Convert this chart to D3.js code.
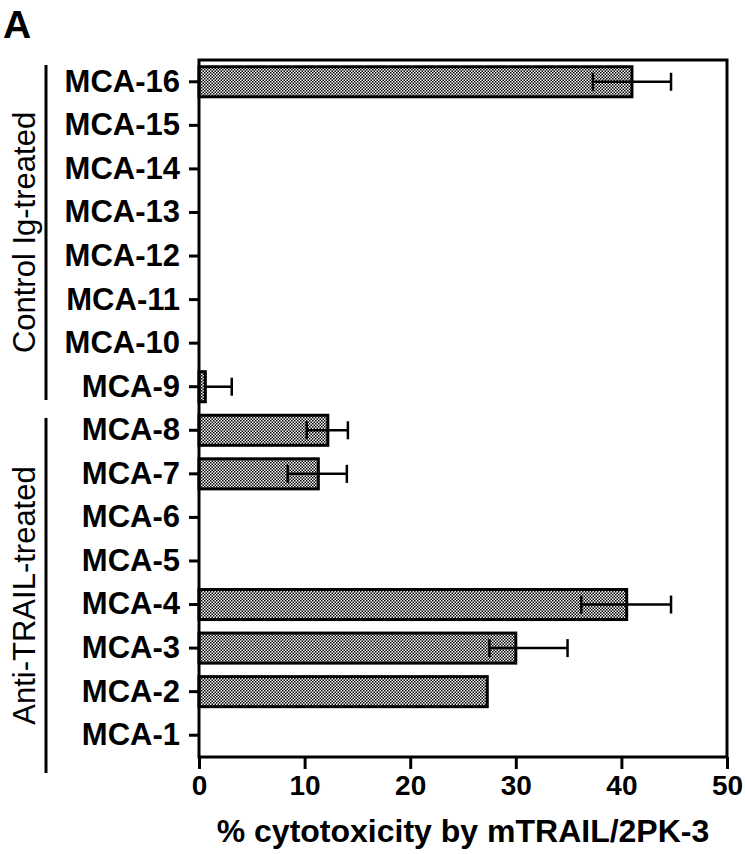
<!DOCTYPE html>
<html>
<head>
<meta charset="utf-8">
<script src="https://cdn.jsdelivr.net/npm/d3@7"></script>
<style>
  body { margin: 0; background: #fff; }
  text { font-family: "Liberation Sans", Arial, Helvetica, sans-serif; }
</style>
</head>
<body>
<svg id="chart" width="745" height="854"></svg>
<script>
// cell lines, top to bottom
const categories = ["MCA-16", "MCA-15", "MCA-14", "MCA-13", "MCA-12", "MCA-11", "MCA-10", "MCA-9",
                    "MCA-8", "MCA-7", "MCA-6", "MCA-5", "MCA-4", "MCA-3", "MCA-2", "MCA-1"];
// % cytotoxicity (null = no bar)
const values  = [41.0, null, null, null, null, null, null, 0.6, 12.2, 11.3, null, null, 40.5, 30.0, 27.3, null];
const errLow  = [3.7, 0, 0, 0, 0, 0, 0, 0, 2.0, 2.9, 0, 0, 4.3, 2.5, 0, 0];
const errHigh = [3.7, 0, 0, 0, 0, 0, 0, 2.5, 1.9, 2.7, 0, 0, 4.2, 4.9, 0, 0];
const xTicks = [0, 10, 20, 30, 40, 50];
const groups = [
    {label: "Control Ig-treated", top: 65, bottom: 400},
    {label: "Anti-TRAIL-treated", top: 418, bottom: 773}
];

const data = categories.map(function(c, i) {
    return {name: c, value: values[i], lo: errLow[i], hi: errHigh[i]};
});

const svg = d3.select("#chart");
const margin = {top: 60, right: 18, bottom: 97, left: 199};
const width = 745, height = 854;

var x = d3.scaleLinear()
    .domain([0, 50])
    .range([margin.left, width - margin.right]);

var y = d3.scaleBand()
    .domain(categories)
    .range([margin.top, height - margin.bottom])
    .paddingInner(0.31)
    .paddingOuter(0.155);

// stipple fill
var pat = svg.append("defs").append("pattern")
    .attr("id", "dots")
    .attr("patternUnits", "userSpaceOnUse")
    .attr("width", 3).attr("height", 3);
pat.append("rect").attr("width", 3).attr("height", 3).attr("fill", "#fff");
pat.append("rect").attr("x", 0).attr("y", 0).attr("width", 1.5).attr("height", 1.5).attr("fill", "#000");
pat.append("rect").attr("x", 1.5).attr("y", 1.5).attr("width", 1.5).attr("height", 1.5).attr("fill", "#000");

// panel letter
svg.append("text")
    .attr("x", 3).attr("y", 38)
    .attr("font-size", 39).attr("font-weight", "bold")
    .text("A");

// bars
var bars = data.filter(function(d) { return d.value != null; });
svg.selectAll(".bar")
    .data(bars)
    .enter().append("rect")
    .attr("class", "bar")
    .attr("x", x(0))
    .attr("y", function(d) { return y(d.name); })
    .attr("width", function(d) { return x(d.value) - x(0); })
    .attr("height", y.bandwidth())
    .attr("fill", "url(#dots)")
    .attr("stroke", "#000")
    .attr("stroke-width", 3);

// error bars (whisker to each side, capped)
var errs = bars.filter(function(d) { return d.hi > 0; });
var eg = svg.selectAll(".err")
    .data(errs)
    .enter().append("g")
    .attr("class", "err")
    .attr("stroke", "#000")
    .attr("stroke-width", 2.5);
eg.append("line")
    .attr("x1", function(d) { return x(Math.max(0, d.value - d.lo)); })
    .attr("x2", function(d) { return x(d.value + d.hi); })
    .attr("y1", function(d) { return y(d.name) + y.bandwidth() / 2; })
    .attr("y2", function(d) { return y(d.name) + y.bandwidth() / 2; });
eg.append("line")
    .attr("x1", function(d) { return x(d.value + d.hi); })
    .attr("x2", function(d) { return x(d.value + d.hi); })
    .attr("y1", function(d) { return y(d.name) + y.bandwidth() / 2 - 9; })
    .attr("y2", function(d) { return y(d.name) + y.bandwidth() / 2 + 9; });
eg.filter(function(d) { return d.lo > 0; }).append("line")
    .attr("x1", function(d) { return x(d.value - d.lo); })
    .attr("x2", function(d) { return x(d.value - d.lo); })
    .attr("y1", function(d) { return y(d.name) + y.bandwidth() / 2 - 9; })
    .attr("y2", function(d) { return y(d.name) + y.bandwidth() / 2 + 9; });

// frame
svg.append("rect")
    .attr("x", margin.left).attr("y", margin.top)
    .attr("width", width - margin.right - margin.left)
    .attr("height", height - margin.bottom - margin.top)
    .attr("fill", "none")
    .attr("stroke", "#000")
    .attr("stroke-width", 3);

// axes
var xAxis = svg.append("g")
    .attr("transform", `translate(0, ${height - margin.bottom})`)
    .call(d3.axisBottom(x).tickValues(xTicks).tickSize(12).tickPadding(6));
var yAxis = svg.append("g")
    .attr("transform", `translate(${margin.left}, 0)`)
    .call(d3.axisLeft(y).tickSize(10).tickPadding(9));

[xAxis, yAxis].forEach(function(a) {
    a.select(".domain").remove();
    a.selectAll(".tick line").attr("stroke", "#000").attr("stroke-width", 3);
    a.selectAll("text")
        .attr("fill", "#000")
        .attr("font-weight", "bold")
        .attr("font-family", "'Liberation Sans', Arial, sans-serif");
});
xAxis.selectAll("text").attr("font-size", 28);
yAxis.selectAll("text").attr("font-size", 31);

// axis title
svg.append("text")
    .attr("x", (margin.left + width - margin.right) / 2)
    .attr("y", 842)
    .attr("text-anchor", "middle")
    .attr("font-size", 32).attr("font-weight", "bold")
    .text("% cytotoxicity by mTRAIL/2PK-3");

// treatment groups
groups.forEach(function(g) {
    svg.append("line")
        .attr("x1", 46).attr("x2", 46)
        .attr("y1", g.top).attr("y2", g.bottom)
        .attr("stroke", "#000").attr("stroke-width", 3);
    svg.append("text")
        .attr("transform", `translate(35, ${(g.top + g.bottom) / 2}) rotate(-90)`)
        .attr("text-anchor", "middle")
        .attr("font-size", 31)
        .text(g.label);
});
</script>
</body>
</html>
